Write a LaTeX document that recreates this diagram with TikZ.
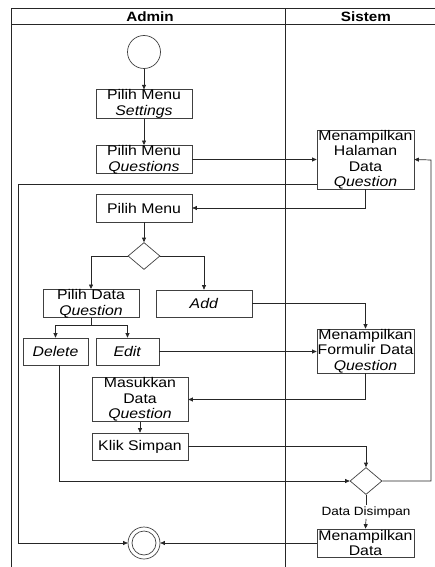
\documentclass[tikz,border=0pt]{standalone}
\usepackage{fontspec}
\setmainfont{Liberation Sans}[FakeStretch=1.13]
\usetikzlibrary{arrows.meta,shapes.geometric,calc}
\begin{document}
\begin{tikzpicture}[x=1pt,y=-1pt,
 box/.style={draw=black!75, line width=0.7pt, inner sep=0pt, align=center, font=\fontsize{14}{15.5}\selectfont, minimum width=96pt, minimum height=27pt},
 conn/.style={draw=black!85, line width=0.7pt},
 arr/.style={conn, -{Triangle[length=4.5pt,width=4pt]}},
 dec/.style={diamond, draw=black!75, line width=0.7pt, minimum width=32pt, minimum height=27pt, inner sep=0pt},
 lane/.style={draw=black!85, line width=0.8pt},
 head/.style={font=\fontsize{13.5}{15}\selectfont\bfseries, inner sep=0pt}
]
\useasboundingbox (0,0) rectangle (435,567);
% swimlane frame
\draw[lane] (11,567) -- (11,8.5) -- (435,8.5);
\draw[lane] (11,24) -- (435,24);
\draw[lane] (285,8.5) -- (285,567);
\node[head] (hadmin) at (150,16.5) {Admin};
\node[head] (hsistem) at (366,16.5) {Sistem};
% nodes
\node[circle,draw=black!75,line width=0.7pt,minimum size=33pt,inner sep=0pt] (start) at (144,52) {};
\node[box] (set) at (144,104) {Pilih Menu\\\textit{Settings}};
\node[box] (ques) at (144,159.5) {Pilih Menu\\\textit{Questions}};
\node[box,minimum width=97pt,minimum height=59pt] (hal) at (365.5,159.5) {Menampilkan\\Halaman\\Data\\\textit{Question}};
\node[box,minimum height=28pt] (menu) at (144,208) {Pilih Menu};
\node[dec] (d1) at (144,256) {};
\node[box] (pdq) at (91,303.5) {Pilih Data\\\textit{Question}};
\node[box] (add) at (204,303.5) {\textit{Add}};
\node[box,minimum width=97pt,minimum height=44pt] (form) at (365.5,351) {Menampilkan\\Formulir Data\\\textit{Question}};
\node[box,minimum width=65pt] (del) at (55.5,351.5) {\textit{Delete}};
\node[box,minimum width=63pt] (edit) at (127.5,351.5) {\textit{Edit}};
\node[box,minimum height=41pt] (mas) at (140,399.5) {Masukkan\\Data\\\textit{Question}};
\node[box] (klik) at (140,446.5) {Klik Simpan};
\node[dec] (d2) at (366,481) {};
\node[font=\fontsize{12}{13}\selectfont, inner sep=1pt] (lbl) at (366,512) {Data Disimpan};
\node[box,minimum width=97pt,minimum height=28pt] (mdata) at (365.5,543) {Menampilkan\\Data};
\node[circle,draw=black!75,line width=0.7pt,minimum size=32pt,inner sep=0pt] (end) at (144,543) {};
\draw[draw=black!75,line width=0.7pt] (end.center) circle (12pt);
% helper coordinates
\coordinate (lx) at (18,543);
\coordinate (rx) at (431,160);
% connectors
\draw[arr] (start) -- (set);
\draw[arr] (set) -- (ques);
\draw[arr] (ques.east) -- (hal.west);
\draw[arr] (hal.south) |- (menu.east);
\draw[arr] ($(hal.south west)+(0,-5)$) -| (lx) -- (end.west);
\draw[arr] (menu) -- (d1);
\draw[arr] (d1.west) -| (pdq.north);
\draw[arr] (d1.east) -| (add.north);
\draw[arr] (add.east) -| (form.north);
\draw[conn] (pdq.south) -- ++(0,7.5) coordinate (split);
\draw[arr] (split) -| (del.north);
\draw[arr] (split) -| (edit.north);
\draw[arr] (edit.east) -- (edit.east -| form.west);
\draw[arr] ([xshift=3.5pt]del.south) |- (d2.west);
\draw[arr] (form.south) |- (mas.east);
\draw[arr] (mas) -- (klik);
\draw[arr] (klik.east) -| (d2.north);
\draw[arr] (d2.east) -| (rx) -- (hal.east);
\draw[conn] (d2.south) -- (lbl.north);
\draw[arr] (lbl.south) -- (mdata.north);
\draw[arr] (mdata.west) -- (end.east);
\end{tikzpicture}
\end{document}
